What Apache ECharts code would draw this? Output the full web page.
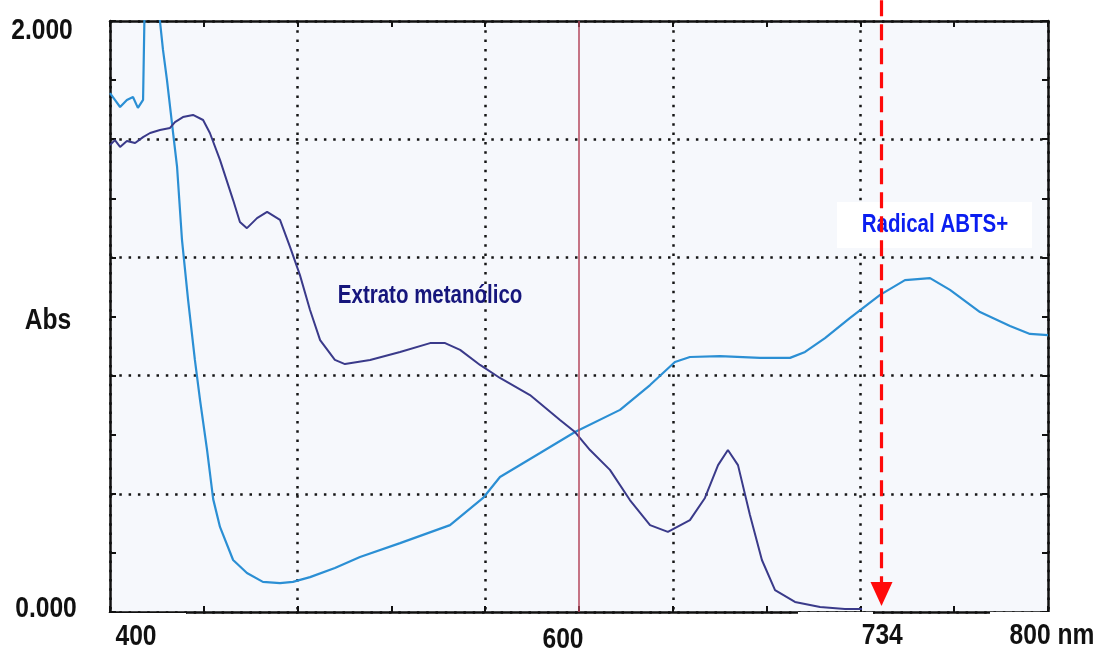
<!DOCTYPE html>
<html>
<head>
<meta charset="utf-8">
<script src="https://cdn.jsdelivr.net/npm/echarts@6/dist/echarts.min.js"></script>
<style>
  html, body { margin: 0; padding: 0; background: #fff; }
  #main { width: 1099px; height: 651px; }
</style>
</head>
<body>
<div id="main"></div>
<script>
// ABTS radical spectrum (light blue), nm / absorbance
var abtsNm = [400, 402.1, 404.3, 407.2, 409.8, 411.9, 414.1, 414.9, 415.3, 420.8, 421.3, 422.6, 424.3, 426.9, 428.6,
  430.7, 433.3, 436.2, 438.4, 441.4, 444.0, 446.9, 452.5, 458.4, 465.2, 472.5, 478.0, 485.3, 495.9, 506.6,
  523.7, 545.0, 559.1, 566.3, 583.4, 598.3, 617.5, 630.3, 640.9, 647.3, 660.1, 677.2, 690.0, 696.4, 704.9,
  715.6, 728.4, 739.0, 749.7, 758.2, 771.0, 783.8, 792.3, 800];
var abtsAbs = [1.756, 1.733, 1.709, 1.733, 1.743, 1.706, 1.733, 1.733, 2.3, 2.3, 2.0, 1.902, 1.800, 1.621, 1.506,
  1.259, 1.056, 0.853, 0.717, 0.548, 0.382, 0.288, 0.176, 0.132, 0.102, 0.098, 0.102, 0.118, 0.149, 0.186,
  0.233, 0.294, 0.386, 0.457, 0.538, 0.609, 0.684, 0.768, 0.846, 0.863, 0.866, 0.860, 0.860, 0.880, 0.927,
  0.995, 1.073, 1.123, 1.130, 1.090, 1.015, 0.968, 0.941, 0.937];

// methanolic extract spectrum (dark blue)
var extNm = [400, 402.1, 404.3, 407.2, 410.7, 414.1, 417.1, 421.3, 425.6, 427.7, 431.1, 435.4, 439.7, 442.6, 446.9,
  452.5, 455.4, 458.4, 462.7, 467.0, 472.5, 476.8, 481.0, 485.3, 489.6, 495.9, 500.2, 510.9, 523.7, 536.5,
  542.9, 549.3, 557.8, 566.3, 579.1, 591.9, 598.3, 604.7, 613.2, 621.7, 630.3, 637.9, 647.3, 653.7, 659.3,
  663.5, 667.8, 672.9, 678.0, 683.6, 692.1, 702.8, 713.4, 720.7];
var extAbs = [1.580, 1.597, 1.574, 1.594, 1.587, 1.607, 1.621, 1.631, 1.638, 1.658, 1.675, 1.682, 1.665, 1.621, 1.530,
  1.394, 1.320, 1.299, 1.333, 1.354, 1.327, 1.235, 1.140, 1.022, 0.920, 0.853, 0.839, 0.853, 0.880, 0.910,
  0.910, 0.887, 0.836, 0.792, 0.734, 0.650, 0.609, 0.548, 0.481, 0.379, 0.294, 0.271, 0.311, 0.386, 0.497,
  0.548, 0.497, 0.328, 0.176, 0.074, 0.034, 0.017, 0.010, 0.010];

// tick labels written on the figure
var xTickValues = [400, 600, 734, 800];
var xTickLabels = ['400', '600', '734', '800 nm'];
var yTickValues = [2, 0];
var yTickLabels = ['2.000', '0.000'];

// annotations
var markerNm = 600;        // solid red line
var arrowNm = 729;         // dashed red arrow
var arrowFrom = 2.07, arrowTo = 0.02;

function pairs(xs, ys) {
  var out = [];
  for (var i = 0; i < xs.length; i++) out.push([xs[i], ys[i]]);
  return out;
}

// no narrow font installed, so squeeze a normal bold one
var FONT = "'Liberation Sans', Arial, sans-serif";
var NARROW = 0.82;
var dotted = { color: '#151515', width: 2.5, type: [2.5, 6.8], cap: 'butt' };

var chart = echarts.init(document.getElementById('main'), null, { renderer: 'canvas' });

function frameAxis(pos, isX, withGrid) {
  return {
    type: 'value',
    position: pos,
    min: isX ? 400 : 0,
    max: isX ? 800 : 2,
    interval: isX ? 80 : 0.4,
    axisLine: { show: true, onZero: false, lineStyle: { color: '#111', width: 2.5 } },
    axisTick: { show: true, inside: true, length: 6, lineStyle: { color: '#111', width: 2 } },
    minorTick: { show: true, splitNumber: 2, length: 6, lineStyle: { color: '#111', width: 2 } },
    axisLabel: { show: false },
    splitLine: { show: withGrid, lineStyle: dotted }
  };
}

var option = {
  backgroundColor: '#ffffff',
  animation: false,
  grid: { left: 110, right: 51, top: 21, bottom: 39, show: true, backgroundColor: '#f6f8fc', borderWidth: 0 },
  xAxis: [frameAxis('bottom', true, true), frameAxis('top', true, false)],
  yAxis: [frameAxis('left', false, true), frameAxis('right', false, false)],
  series: [
    {
      name: 'Radical ABTS+',
      type: 'line',
      data: pairs(abtsNm, abtsAbs),
      showSymbol: false,
      clip: true,
      lineStyle: { color: '#2b8fd4', width: 2.2 },
      z: 3
    },
    {
      name: 'Extrato metanólico',
      type: 'line',
      data: pairs(extNm, extAbs),
      showSymbol: false,
      clip: true,
      lineStyle: { color: '#3a3a8a', width: 2 },
      z: 4,
      markLine: {
        silent: true,
        symbol: ['none', 'none'],
        label: { show: false },
        lineStyle: { color: '#b5485e', width: 1.5, type: 'solid' },
        data: [{ xAxis: markerNm }]
      }
    }
  ]
};
chart.setOption(option);

function px(x, y) { return chart.convertToPixel({ gridIndex: 0 }, [x, y]); }

function label(text, x, y, size, color) {
  return { type: 'text', z: 60, x: x, y: y, scaleX: NARROW,
    style: { text: text, x: 0, y: 0, align: 'center', verticalAlign: 'middle',
      font: 'bold ' + size + 'px ' + FONT, fill: color } };
}

var g = [];
// white patches behind the bottom labels (they cover the axis line)
[[0, 613, 186, 38], [515, 614, 97, 37], [798, 612, 75, 39], [990, 612, 109, 39]].forEach(function (r) {
  g.push({ type: 'rect', shape: { x: r[0], y: r[1], width: r[2], height: r[3] }, style: { fill: '#fff' }, z: 50 });
});

var xOff = [[26, 25], [-16, 28], [-11, 24], [4, 24]];
xTickValues.forEach(function (v, i) {
  var p = px(v, 0);
  g.push(label(xTickLabels[i], p[0] + xOff[i][0], p[1] + xOff[i][1], 30, '#111'));
});
var yOff = [[42, 10], [46, -3]];
yTickValues.forEach(function (v, i) {
  var p = px(400, v);
  g.push(label(yTickLabels[i], yOff[i][0], p[1] + yOff[i][1], 30, '#111'));
});
g.push(label('Abs', 48, 321, 30, '#111'));

// series labels
var pe = px(536.5, 1.069);
g.push(label('Extrato metanólico', pe[0], pe[1], 25, '#16167c'));
g.push({ type: 'rect', z: 55, shape: { x: 837, y: 202, width: 195, height: 46 }, style: { fill: '#fff' } });
var pa = px(751.8, 1.31);
g.push(label('Radical ABTS+', pa[0], pa[1], 25, '#0a1ef0'));

// dashed arrow at ~734 nm
var a0 = px(arrowNm, arrowFrom), a1 = px(arrowNm, arrowTo);
g.push({ type: 'line', z: 70, shape: { x1: a0[0], y1: a0[1], x2: a1[0], y2: a1[1] - 20 },
  style: { stroke: '#ff0a0a', lineWidth: 3.2, lineDash: [16, 8] } });
g.push({ type: 'polygon', z: 70, shape: { points: [[a1[0] - 11, a1[1] - 24], [a1[0] + 11, a1[1] - 24], [a1[0], a1[1]]] },
  style: { fill: '#ff0a0a' } });

chart.setOption({ graphic: { elements: g } });
</script>
</body>
</html>
